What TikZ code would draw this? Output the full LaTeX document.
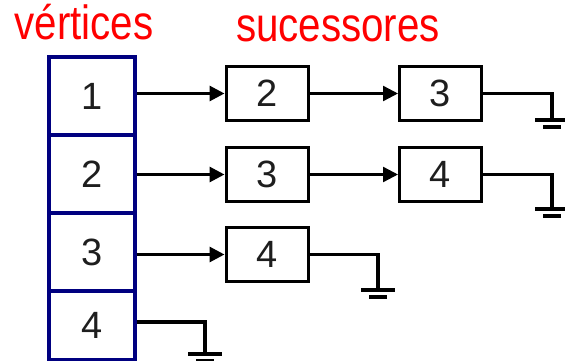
\documentclass[tikz,border=0pt]{standalone}
\usepackage{fontspec}
\setmainfont{Liberation Sans}
\usetikzlibrary{arrows.meta}
\definecolor{cellblue}{HTML}{000080}
\definecolor{digitgray}{HTML}{1E1E1E}
\begin{document}
\begin{tikzpicture}[x=1pt,y=-1pt,
  title/.style={text=red,font=\fontsize{48}{48}\selectfont,anchor=base,inner sep=0pt},
  cell/.style={draw=cellblue,line width=3.2pt,minimum width=86pt,text=digitgray,
    font=\fontsize{38}{38}\selectfont,inner sep=0pt},
  succ/.style={draw=black,line width=3pt,minimum width=82pt,minimum height=54pt,
    text=digitgray,font=\fontsize{38}{38}\selectfont,inner sep=0pt},
  link/.style={line width=3pt,-{Triangle[length=15pt,width=15pt]}},
  nextlink/.style={line width=2.4pt,-{Triangle[length=15pt,width=15pt]}},
  nil/.style={line width=3.6pt},
]
\useasboundingbox (0,0) rectangle (565,361);

% column headers
\node[title] (tv) at (84,40) {\scalebox{0.84}[1]{vértices}};
\node[title] (ts) at (338,42) {\scalebox{0.84}[1]{sucessores}};

% vertex array
\node[cell,minimum height=78pt] (v1) at (92,96) {1};
\node[cell,minimum height=78pt] (v2) at (92,174) {2};
\node[cell,minimum height=78pt] (v3) at (92,252) {3};
\node[cell,minimum height=69pt] (v4) at (92,325.5) {4};

% successor lists
\node[succ] (a1) at (267,93.5) {2};
\node[succ] (a2) at (440.5,93.5) {3};
\node[succ] (b1) at (267,174.5) {3};
\node[succ] (b2) at (440.5,174.5) {4};
\node[succ] (c1) at (267,254.5) {4};

% pointers
\draw[link] (v1.east |- a1.west) -- (a1.west);
\draw[link] (v2.east |- b1.west) -- (b1.west);
\draw[link] (v3.east |- c1.west) -- (c1.west);
\draw[nextlink] (a1) -- (a2);
\draw[nextlink] (b1) -- (b2);

% null pointers (ground symbols)
\coordinate (g1) at (552,120);
\coordinate (g2) at (552,209);
\coordinate (g3) at (378,290);
\coordinate (g4) at (205,354);
\draw[nil] (a2.east) -| (g1);
\draw[nil] (b2.east) -| (g2);
\draw[nil] (c1.east) -| (g3);
\draw[nil] (v4.east |- 0,322) -| (g4);
\foreach \g in {g1,g2,g3,g4}{
  \draw[nil] (\g) ++(-17,0) -- ++(34,0);
  \draw[nil] (\g) ++(-9,7) -- ++(18,0);
}
\end{tikzpicture}
\end{document}
